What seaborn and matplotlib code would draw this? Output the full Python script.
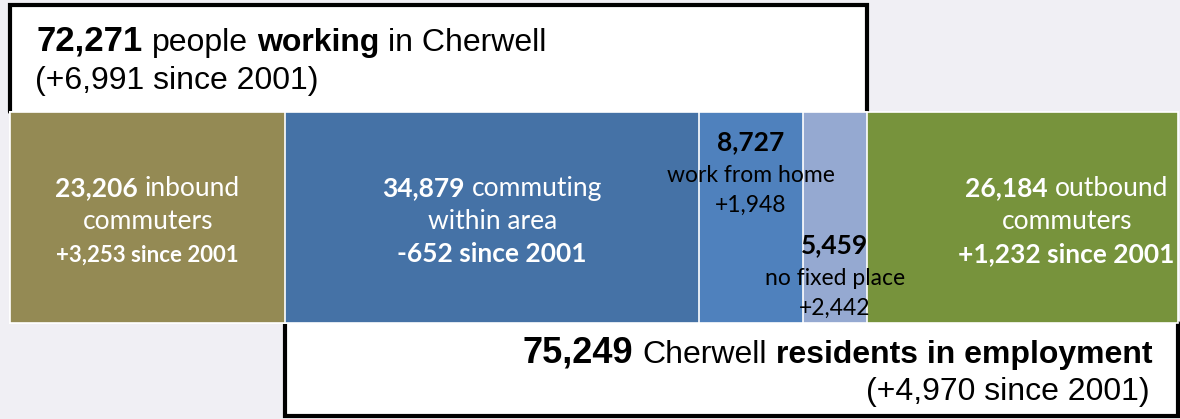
import numpy as np
import pandas as pd
import matplotlib
matplotlib.use("Agg")
import matplotlib.pyplot as plt
from matplotlib.patches import Rectangle
import seaborn as sns

# Cherwell workers and residents by place of work, with change since 2001
flows = ["inbound", "within", "home", "nofixed", "outbound"]
counts = [23206, 34879, 8727, 5459, 26184]
changes = [3253, -652, 1948, 2442, 1232]
desc_first = ["inbound", "commuting", "", "", "outbound"]
desc_second = ["commuters", "within area", "work from home", "no fixed place", "commuters"]
colors = ["#948a54", "#4572a6", "#4f81bd", "#95a9d1", "#77933c"]

working_change = 6991
residents_change = 4970

BG = "#f0eff4"
ARIAL = "Liberation Sans"
CALIBRI = "Lato"

sns.set_theme(style="white")
fig = plt.figure(figsize=(11.8, 4.19), dpi=100, facecolor=BG)
ax = fig.add_axes([0, 0, 1, 1])
ax.set_facecolor(BG)

ends = np.cumsum(counts)
starts = ends - np.array(counts)
total = ends[-1]

# stacked single bar: longest cumulative bar first, shorter ones on top
for i in reversed(range(len(flows))):
    sns.barplot(x=[ends[i]], y=["Cherwell"], orient="h", color=colors[i],
                saturation=1, width=0.8, edgecolor="white", linewidth=1.2,
                ax=ax, zorder=3)

W, H = 1180, 419
px_per_unit = 1168 / total
x_left = -10 / px_per_unit
ax.set_xlim(x_left, x_left + W / px_per_unit)
py_unit = 211 / 0.8


def ypx(p):
    return -0.4 + (p - 112) / py_unit


def xpx(p):
    return x_left + p / px_per_unit


def px_of(xd):
    return (xd - x_left) * px_per_unit


ax.set_ylim(ypx(H), ypx(0))
ax.axis("off")

# framed boxes: workplace population above, resident workers below
work_end = ends[3]
ax.add_patch(Rectangle((0, ypx(5)), work_end, ypx(112) - ypx(5),
                       facecolor="white", edgecolor="none", zorder=1))
ax.plot([0, 0, work_end, work_end], [ypx(112), ypx(5), ypx(5), ypx(112)],
        color="black", lw=3, solid_joinstyle="miter", zorder=2)
res_start = starts[1]
ax.add_patch(Rectangle((res_start, ypx(323)), total - res_start, ypx(416) - ypx(323),
                       facecolor="white", edgecolor="none", zorder=1))
ax.plot([res_start, res_start, total, total], [ypx(323), ypx(416), ypx(416), ypx(323)],
        color="black", lw=3, solid_joinstyle="miter", zorder=2)

renderer = fig.canvas.get_renderer()


def text_width(s, **kw):
    t = ax.text(0, 0, s, **kw)
    w = t.get_window_extent(renderer).width
    t.remove()
    return w


def rich_line(parts, x_px, y_px, ha="left", family=CALIBRI, color="black"):
    """Draw (text, size, weight) pieces on one baseline, separated by spaces."""
    widths, spaces = [], []
    for s, size, weight in parts:
        kw = dict(fontsize=size, family=family, fontweight=weight)
        widths.append(text_width(s, **kw))
        spaces.append(text_width("a a", **kw) - text_width("aa", **kw))
    total_w = sum(widths) + sum(spaces[1:])
    if ha == "center":
        x = x_px - total_w / 2
    elif ha == "right":
        x = x_px - total_w
    else:
        x = x_px
    for k, ((s, size, weight), wd) in enumerate(zip(parts, widths)):
        if k > 0:
            x += spaces[k]
        ax.text(xpx(x), ypx(y_px), s, fontsize=size, family=family,
                fontweight=weight, color=color, ha="left", va="baseline", zorder=6)
        x += wd


# segment labels
BIG, SMALL = 19, 16.5
label_shift = {"outbound": 44}
for i in range(len(flows)):
    cx = px_of(starts[i] + counts[i] / 2) + label_shift.get(flows[i], 0)
    num = f"{counts[i]:,}"
    chg = f"{changes[i]:+,}"
    if flows[i] in ("home", "nofixed"):
        base = 150 if flows[i] == "home" else 253
        rich_line([(num, BIG, "bold")], cx, base, "center")
        rich_line([(desc_second[i], SMALL, "normal")], cx, base + 32, "center")
        rich_line([(chg, SMALL, "normal")], cx, base + 62, "center")
    else:
        third = 16 if flows[i] == "inbound" else BIG
        rich_line([(num, BIG, "bold"), (desc_first[i], BIG, "normal")], cx, 196, "center", color="white")
        rich_line([(desc_second[i], BIG, "normal")], cx, 229, "center", color="white")
        rich_line([(f"{chg} since 2001", third, "bold")], cx, 262, "center", color="white")

# box headings
rich_line([(f"{work_end:,}", 25, "bold"), ("people", 23, "normal"),
           ("working", 23, "bold"), ("in Cherwell", 23, "normal")],
          37, 51, "left", family=ARIAL)
rich_line([(f"(+{working_change:,} since 2001)", 23, "normal")], 35, 89, "left", family=ARIAL)

res_total = total - res_start
rich_line([(f"{res_total:,}", 26, "bold"), ("Cherwell", 23, "normal"),
           ("residents in employment", 23, "bold")],
          1152, 363, "right", family=ARIAL)
rich_line([(f"(+{residents_change:,} since 2001)", 23, "normal")], 1150, 400, "right", family=ARIAL)

fig.savefig("out.png", dpi=100, facecolor=BG)
